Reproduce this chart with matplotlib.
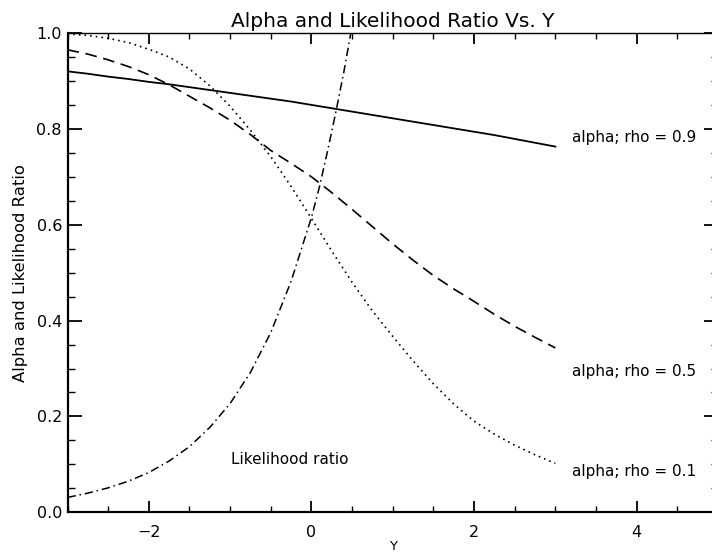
import matplotlib
matplotlib.use("Agg")
import matplotlib.pyplot as plt
from matplotlib.ticker import MultipleLocator

# sample points along Y
y_vals = [-3.0, -2.75, -2.5, -2.25, -2.0, -1.75, -1.5, -1.25, -1.0, -0.75, -0.5, -0.25, 0.0,
          0.25, 0.5, 0.75, 1.0, 1.25, 1.5, 1.75, 2.0, 2.25, 2.5, 2.75, 3.0]
alpha_rho09 = [0.920, 0.915, 0.909, 0.904, 0.898, 0.893, 0.887, 0.881, 0.875, 0.869, 0.863, 0.857, 0.850,
               0.843, 0.836, 0.829, 0.822, 0.815, 0.808, 0.801, 0.794, 0.787, 0.779, 0.771, 0.763]
alpha_rho05 = [0.965, 0.956, 0.944, 0.930, 0.913, 0.892, 0.868, 0.844, 0.818, 0.788, 0.755, 0.728, 0.700,
               0.667, 0.632, 0.596, 0.560, 0.526, 0.494, 0.466, 0.440, 0.413, 0.388, 0.365, 0.343]
alpha_rho01 = [0.998, 0.995, 0.989, 0.980, 0.966, 0.950, 0.925, 0.890, 0.847, 0.797, 0.742, 0.680, 0.613,
               0.545, 0.480, 0.420, 0.367, 0.316, 0.268, 0.226, 0.190, 0.163, 0.140, 0.120, 0.102]

lr_y = [-3.0, -2.75, -2.5, -2.25, -2.0, -1.75, -1.5, -1.25, -1.0, -0.75, -0.5, -0.25, 0.0, 0.1, 0.2, 0.3, 0.4, 0.5]
lr_vals = [0.031, 0.040, 0.051, 0.065, 0.083, 0.107, 0.137, 0.177, 0.227, 0.292, 0.375, 0.482, 0.615, 0.680, 0.755, 0.835, 0.920, 1.015]

labels = ["alpha; rho = 0.9", "alpha; rho = 0.5", "alpha; rho = 0.1", "Likelihood ratio"]
label_pos = [(3.21, 0.781), (3.21, 0.293), (3.21, 0.086), (-0.985, 0.111)]

plt.rcParams["font.family"] = "DejaVu Sans"

fig = plt.figure(figsize=(7.12, 5.52), dpi=100)
# plot region runs slightly past the right edge of the page
ax = fig.add_axes([67.5 / 712, 39.7 / 552, (718 - 67.5) / 712, (512.3 - 33) / 552])

ax.plot(y_vals, alpha_rho09, color="black", lw=1.3, linestyle="-")
ax.plot(y_vals, alpha_rho05, color="black", lw=1.2, linestyle=(0, (7, 4)))
ax.plot(y_vals, alpha_rho01, color="black", lw=1.2, linestyle=(0, (1, 2.4)))
ax.plot(lr_y, lr_vals, color="black", lw=1.1, linestyle=(0, (5.5, 2.5, 1, 2.5)))

for text, (tx, ty) in zip(labels, label_pos):
    ax.text(tx, ty, text, fontsize=11, ha="left", va="center")

ax.set_xlim(-3, 5)
ax.set_ylim(0, 1)
ax.xaxis.set_major_locator(MultipleLocator(2))
ax.xaxis.set_minor_locator(MultipleLocator(0.5))
ax.yaxis.set_major_locator(MultipleLocator(0.2))
ax.yaxis.set_minor_locator(MultipleLocator(0.05))
ax.yaxis.set_major_formatter(lambda v, p: f"{v:.1f}")

ax.tick_params(axis="both", which="both", direction="in", top=True, right=True, color="black")
ax.tick_params(axis="y", which="major", length=10, width=1.3, labelsize=11.5, pad=4)
ax.tick_params(axis="y", which="minor", length=5, width=1.0)
ax.tick_params(axis="x", which="major", length=8, width=1.3, labelsize=11.5, pad=9)
ax.tick_params(axis="x", which="minor", length=4, width=1.0)

for side in ["left", "bottom"]:
    ax.spines[side].set_linewidth(1.6)
for side in ["top", "right"]:
    ax.spines[side].set_linewidth(1.0)

ax.set_title("Alpha and Likelihood Ratio Vs. Y", fontsize=14.5, pad=4)
ax.set_ylabel("Alpha and Likelihood Ratio", fontsize=11.8, labelpad=6)
ax.set_xlabel("Y", fontsize=9.5, labelpad=0)

fig.savefig("out.png", dpi=100)
